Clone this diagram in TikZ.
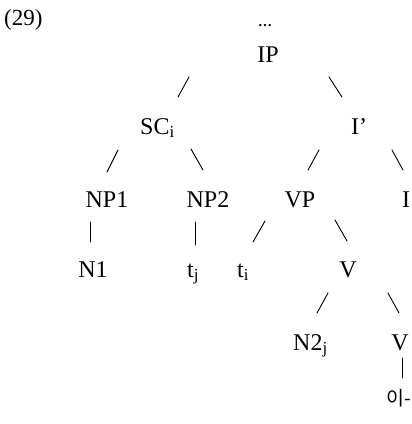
\documentclass[tikz,border=0pt]{standalone}
\usepackage{fontspec}
\setmainfont{Liberation Serif}
\newfontfamily\krfont{Noto Sans CJK KR}
\begin{document}
\begin{tikzpicture}[x=1pt,y=-1pt,
  lbl/.style={inner sep=0pt,anchor=base,font=\fontsize{24}{24}\selectfont},
  lblw/.style={inner sep=0pt,anchor=base west,font=\fontsize{24}{24}\selectfont},
  br/.style={line width=0.9pt,line cap=round}]
\path[fill=white] (0,0) rectangle (412,424);
\useasboundingbox (0,0) rectangle (412,424);
\node[lblw,font=\fontsize{23}{23}\selectfont] (num) at (4,25) {(29)};
\node[inner sep=0pt,anchor=base,font=\fontsize{14}{14}\bfseries] (dots) at (265,26) {\ldots};
\node[lbl] (IP) at (268,62) {IP};
\node[lblw] (SC) at (140,134) {SC\textsubscript{i}};
\node[lbl] (Ib) at (359,134) {I'};
\node[lbl] (NPa) at (107,207) {NP1};
\node[lbl] (NPb) at (208,207) {NP2};
\node[lbl] (VP) at (300,207) {VP};
\node[lbl] (I) at (406,207) {I};
\node[lbl] (N1) at (93,277) {N1};
\node[lblw] (tj) at (187,277) {t\textsubscript{j}};
\node[lblw] (ti) at (237,277) {t\textsubscript{i}};
\node[lbl] (Vb) at (348,277) {V};
\node[lblw] (N2) at (293,350) {N2\textsubscript{j}};
\node[lbl] (V) at (400,350) {V};
\node[inner sep=0pt,anchor=base west,font=\krfont\fontsize{19.5}{19.5}\selectfont] (i) at (386,405) {이-};
% branches
\draw[br] (178,97) -- (189,77);
\draw[br] (329,77) -- (342,97);
\draw[br] (107,172) -- (118,150);
\draw[br] (191,149) -- (203,170);
\draw[br] (308,170) -- (319,150);
\draw[br] (392,150) -- (403,170);
\draw[br] (90,222) -- (90,242);
\draw[br] (195,222) -- (195,245);
\draw[br] (253,242) -- (265,221);
\draw[br] (335,220) -- (347,241);
\draw[br] (317,313) -- (328,293);
\draw[br] (388,293) -- (399,313);
\draw[br] (402,358) -- (402,378);
\end{tikzpicture}
\end{document}
